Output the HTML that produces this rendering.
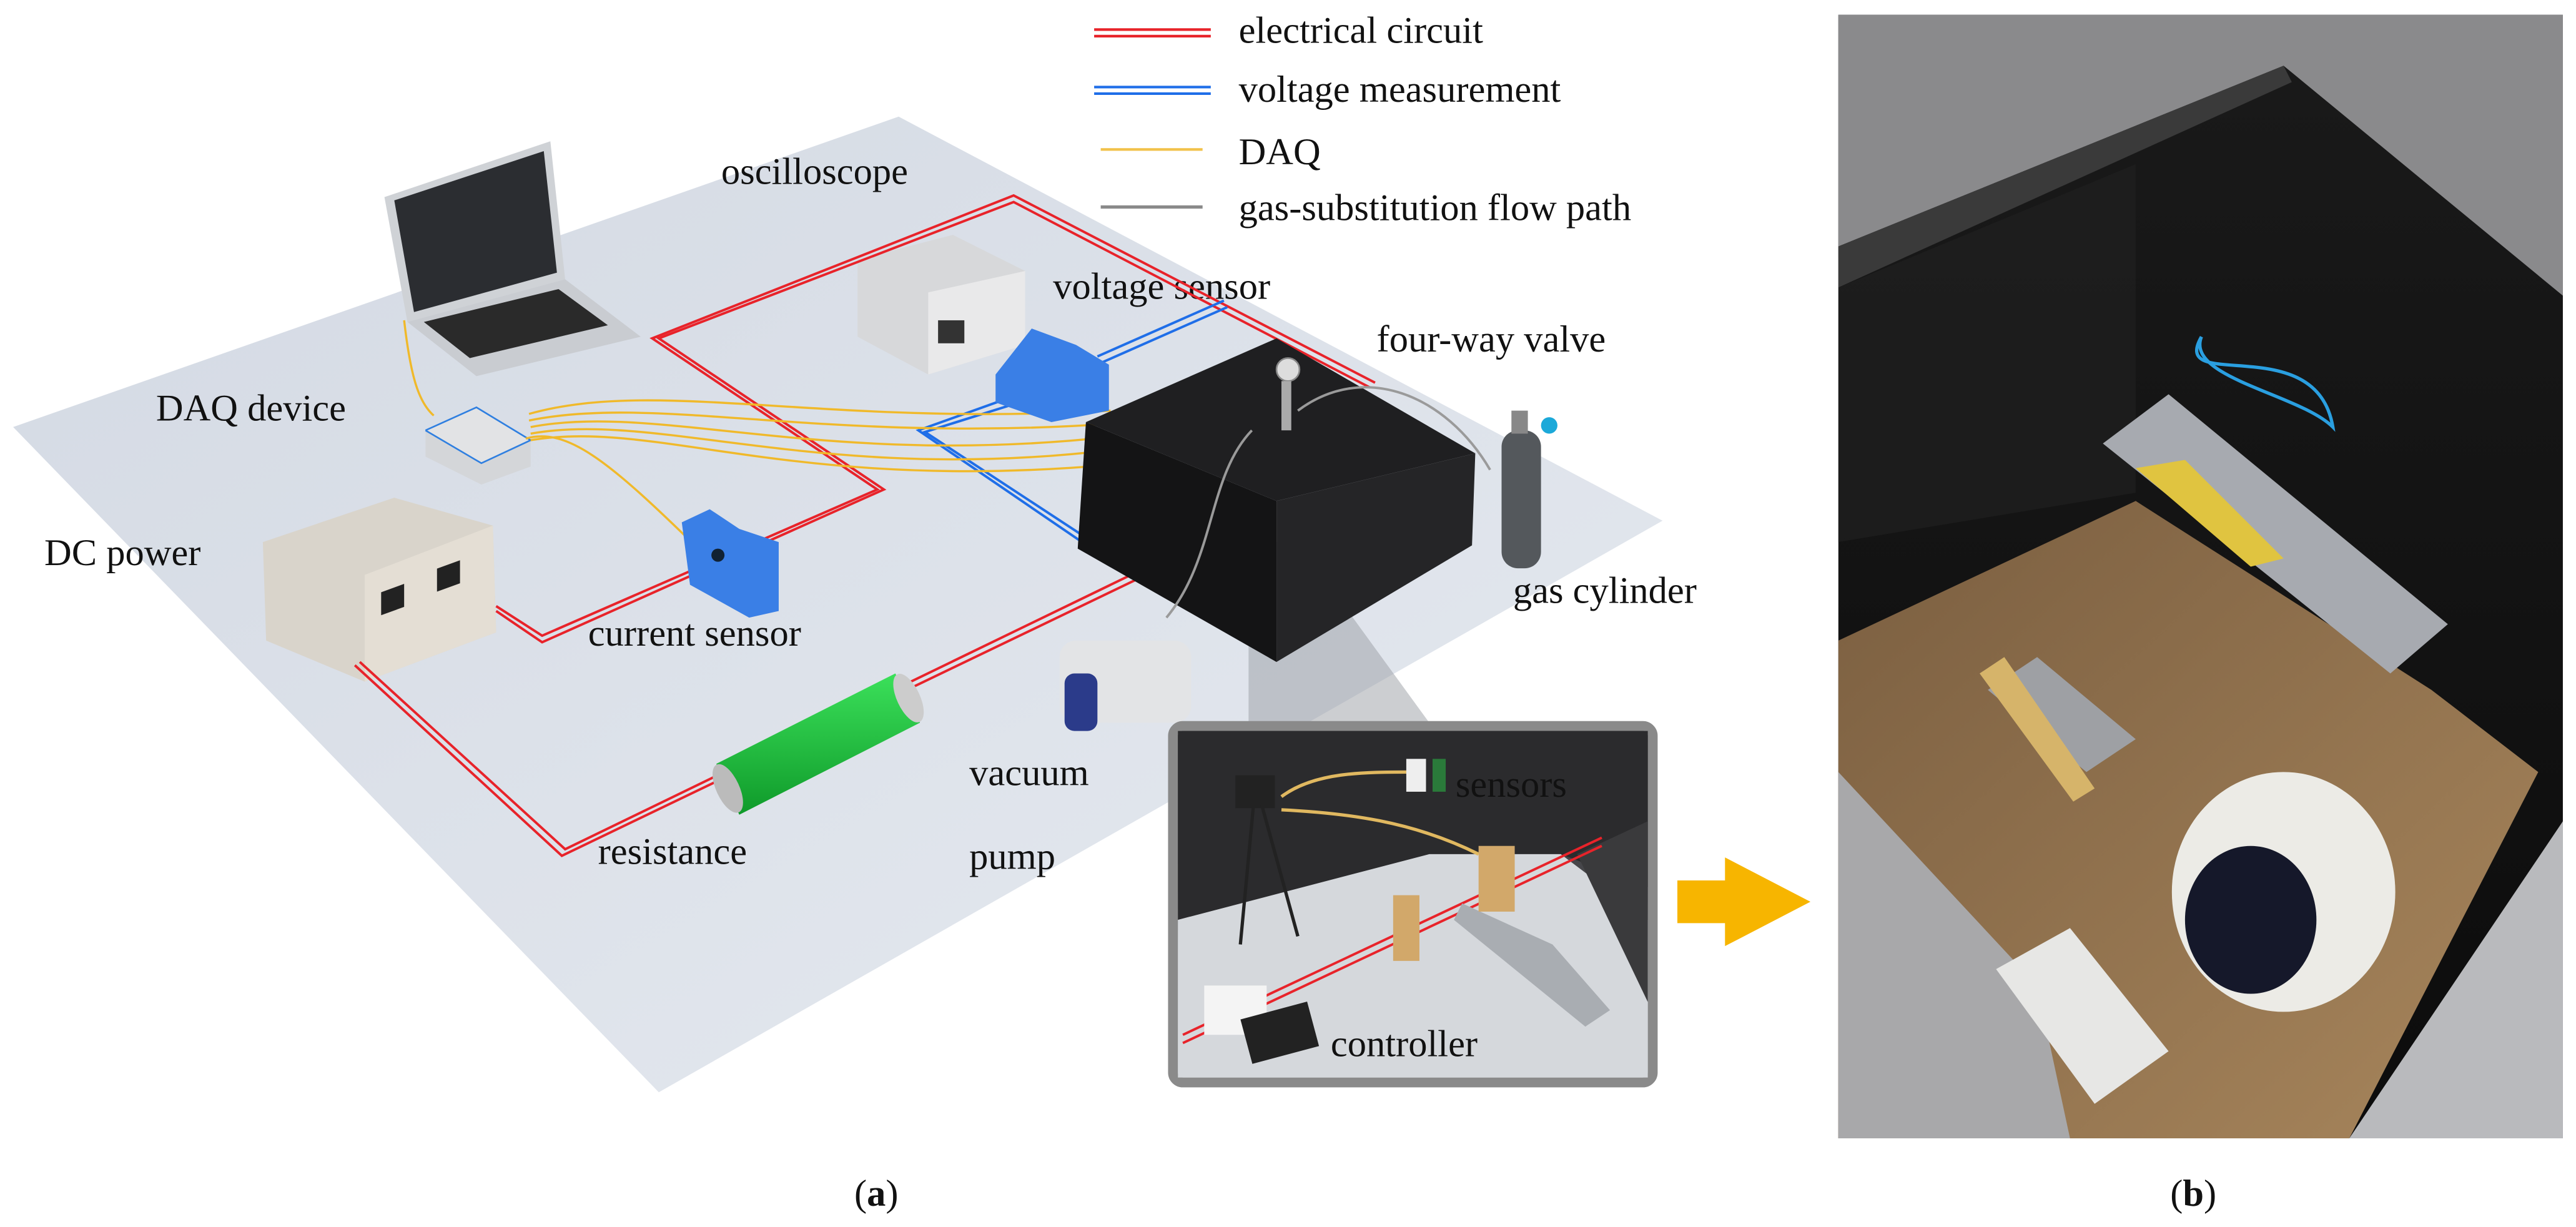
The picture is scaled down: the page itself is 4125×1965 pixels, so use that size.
<!DOCTYPE html>
<html><head><meta charset="utf-8"><style>
html,body{margin:0;padding:0;background:#fff;}
svg{display:block;}
text{font-family:"Liberation Serif",serif;fill:#111;}
</style></head><body>
<svg width="4125" height="1965" viewBox="0 0 1568 747" preserveAspectRatio="none" xmlns="http://www.w3.org/2000/svg">
<defs>
<linearGradient id="fl" x1="0" y1="0" x2="1" y2="1"><stop offset="0" stop-color="#d3d9e3"/><stop offset="1" stop-color="#e6eaf0"/></linearGradient>
<linearGradient id="ins" x1="0" y1="0" x2="0" y2="1"><stop offset="0" stop-color="#2a2a2c"/><stop offset="0.45" stop-color="#4a4a4e"/><stop offset="0.6" stop-color="#bfc3c8"/><stop offset="1" stop-color="#dfe2e6"/></linearGradient>
<linearGradient id="ph" x1="0" y1="0" x2="0" y2="1"><stop offset="0" stop-color="#1a1a1a"/><stop offset="1" stop-color="#0c0c0c"/></linearGradient>
<linearGradient id="grn" x1="0" y1="0" x2="0" y2="1"><stop offset="0" stop-color="#3be05a"/><stop offset="1" stop-color="#0f9a2a"/></linearGradient>
<linearGradient id="wood" x1="0" y1="0" x2="1" y2="1"><stop offset="0" stop-color="#7a5e40"/><stop offset="1" stop-color="#a8865c"/></linearGradient>
</defs>
<polygon points="8,260 547,71 1012,317 401,665" fill="url(#fl)"/>
<polygon points="760,330 790,330 870,440 760,440" fill="#9a9ea4" opacity="0.5"/>
<g stroke-width="1.6" fill="none">
<line x1="666" y1="18" x2="737" y2="18" stroke="#e8232a"/><line x1="666" y1="22" x2="737" y2="22" stroke="#e8232a"/>
<line x1="666" y1="53" x2="737" y2="53" stroke="#1f6ee8"/><line x1="666" y1="57" x2="737" y2="57" stroke="#1f6ee8"/>
<line x1="670" y1="91" x2="732" y2="91" stroke="#f2c24a"/>
<line x1="670" y1="126" x2="732" y2="126" stroke="#8a8a8a" stroke-width="2"/>
</g>
<g font-size="23">
<text x="754" y="26">electrical circuit</text>
<text x="754" y="62">voltage measurement</text>
<text x="754" y="100">DAQ</text>
<text x="754" y="134">gas-substitution flow path</text>
<text x="439" y="112">oscilloscope</text>
<text x="95" y="256">DAQ device</text>
<text x="27" y="344">DC power</text>
<text x="358" y="393">current sensor</text>
<text x="641" y="182">voltage sensor</text>
<text x="838" y="214">four-way valve</text>
<text x="921" y="367">gas cylinder</text>
<text x="590" y="478">vacuum</text>
<text x="590" y="529">pump</text>
<text x="364" y="526">resistance</text>
<text x="520" y="734">(<tspan font-weight="bold">a</tspan>)</text>
<text x="1321" y="734">(<tspan font-weight="bold">b</tspan>)</text>
</g>
<polygon points="234,120 335,86 344,170 248,196" fill="#cfd2d6"/>
<polygon points="240,122 331,92 339,166 252,190" fill="#2b2d31"/>
<polygon points="248,196 344,170 390,205 290,229" fill="#c9ccd1"/>
<polygon points="258,196 340,176 370,198 286,218" fill="#2a2a2a"/>
<polygon points="522,158 580,143 624,165 624,210 565,228 522,205" fill="#d7d8da"/>
<polygon points="565,178 624,165 624,210 565,228" fill="#e9e9ea"/>
<rect x="571" y="195" width="16" height="14" fill="#333"/>
<polygon points="259,262 290,248 323,268 323,284 293,295 259,278" fill="#d4d6d9"/>
<polyline points="259,262 290,248 323,268 293,282 259,262" fill="#e2e3e5" stroke="#2f7fe0" stroke-width="1"/>
<polygon points="160,330 240,303 300,320 302,385 222,415 162,390" fill="#d9d4cb"/>
<polygon points="222,350 300,320 302,385 222,415" fill="#e4ded4"/>
<rect x="232" y="360" width="14" height="14" fill="#222" transform="skewY(-20) translate(0,85)"/>
<rect x="266" y="345" width="14" height="14" fill="#222" transform="skewY(-20) translate(0,98)"/>
<g fill="none" stroke="#e8232a" stroke-width="1.5">
<polyline points="302,369 330,387 534,298 397,206 617,119 837,233"/>
<polyline points="302,372 330,391 538,298 401,206 617,123 834,236"/>
<polyline points="219,403 344,517 707,341"/>
<polyline points="216,405 342,521 708,345"/>
</g>
<g fill="none" stroke="#1f6ee8" stroke-width="1.5">
<polyline points="668,217 745,183"/><polyline points="670,221 747,187"/>
<polyline points="612,243 559,262 685,348"/><polyline points="614,247 563,263 688,345"/>
</g>
<g fill="none" stroke="#f0b92a" stroke-width="1.3">
<path d="M246,195 C250,230 255,245 264,253"/>
<path d="M320,267 C345,260 370,280 425,334"/>
<path d="M322,252 C400,230 500,260 676,250"/>
<path d="M322,256 C400,240 500,270 676,258"/>
<path d="M323,260 C400,245 500,285 676,266"/>
<path d="M323,264 C400,250 500,295 676,274"/>
<path d="M323,268 C400,255 480,300 676,283"/>
</g>
<polygon points="415,318 432,310 450,322 474,330 474,372 456,376 420,356" fill="#3a7fe6"/>
<circle cx="437" cy="338" r="4" fill="#123"/>
<polygon points="606,228 628,200 655,210 675,222 675,250 640,257 606,245" fill="#3a7fe6"/>
<polygon points="777,206 661,257 777,305 898,276" fill="#1f1f21"/>
<polygon points="661,257 777,305 777,403 656,334" fill="#141415"/>
<polygon points="777,305 898,276 896,332 777,403" fill="#252527"/>
<circle cx="784" cy="225" r="7" fill="#ddd" stroke="#888"/>
<rect x="780" y="232" width="6" height="30" fill="#aaa"/>
<g fill="none" stroke="#9a9a9a" stroke-width="1.5">
<path d="M790,250 C830,220 880,240 907,286"/>
<path d="M762,262 C735,290 740,340 710,376"/>
</g>
<rect x="914" y="262" width="24" height="84" rx="10" fill="#54585c"/>
<rect x="920" y="250" width="10" height="14" fill="#888"/>
<circle cx="943" cy="259" r="5" fill="#1ca9d9"/>
<rect x="645" y="390" width="80" height="50" rx="10" fill="#e3e4e6"/>
<rect x="648" y="410" width="20" height="35" rx="6" fill="#2b3b8a"/>
<polygon points="436,465 545,410 560,440 450,496" fill="url(#grn)"/>
<ellipse cx="443" cy="480" rx="7" ry="16" fill="#bbb" transform="rotate(-25 443 480)"/>
<ellipse cx="553" cy="425" rx="7" ry="16" fill="#ccc" transform="rotate(-25 553 425)"/>
<rect x="714" y="442" width="292" height="217" rx="6" fill="url(#ins)" stroke="#8a8a8a" stroke-width="6"/>
<polygon points="717,445 1003,445 1003,540 950,520 870,520 717,560" fill="#2b2b2d"/>
<polygon points="717,560 870,520 950,520 1003,560 1003,656 717,656" fill="#d5d8dc"/>
<polygon points="960,520 1003,500 1003,610" fill="#3a3a3c"/>
<g fill="none" stroke="#e8232a" stroke-width="1.5"><line x1="720" y1="630" x2="975" y2="510"/><line x1="720" y1="635" x2="975" y2="515"/></g>
<polygon points="890,550 945,575 980,615 965,625 885,560" fill="#a9adb2"/>
<rect x="900" y="515" width="22" height="40" fill="#d2a86a"/>
<rect x="848" y="545" width="16" height="40" fill="#d2a86a"/>
<rect x="733" y="600" width="38" height="30" fill="#f4f4f4"/>
<rect x="758" y="615" width="42" height="28" fill="#222" transform="rotate(-15 778 629)"/>
<rect x="752" y="472" width="24" height="20" fill="#222"/>
<line x1="763" y1="490" x2="755" y2="575" stroke="#222" stroke-width="2"/>
<line x1="768" y1="490" x2="790" y2="570" stroke="#222" stroke-width="2"/>
<path d="M780,485 C800,470 830,470 860,470" stroke="#e0b860" stroke-width="2" fill="none"/>
<path d="M780,493 C820,495 860,500 900,520" stroke="#e0b860" stroke-width="2" fill="none"/>
<rect x="856" y="462" width="12" height="20" fill="#eee"/>
<rect x="872" y="462" width="8" height="20" fill="#2a7a3a"/>
<g font-size="23"><text x="886" y="485">sensors</text><text x="810" y="643">controller</text></g>
<polygon points="1021,536 1050,536 1050,522 1102,549 1050,576 1050,562 1021,562" fill="#f7b500"/>
<!-- photo b -->
<rect x="1119" y="9" width="441" height="684" fill="url(#ph)"/>
<polygon points="1119,9 1560,9 1560,180 1390,40 1119,150" fill="#8a8a8c"/>
<polygon points="1119,150 1390,40 1395,50 1119,175" fill="#3a3a3a"/>
<polygon points="1119,175 1300,100 1300,300 1119,330" fill="#222" opacity="0.6"/>
<polygon points="1119,390 1300,305 1480,420 1545,470 1430,693 1119,693" fill="url(#wood)"/>
<polygon points="1560,500 1430,693 1560,693" fill="#b9babd"/>
<polygon points="1119,470 1240,600 1260,693 1119,693" fill="#a8a8aa"/>
<polygon points="1280,270 1320,240 1490,380 1455,410" fill="#a7aab0"/>
<polygon points="1300,285 1330,280 1390,340 1370,345" fill="#e0c440"/>
<polygon points="1210,420 1240,400 1300,450 1270,470" fill="#9ea0a4"/>
<polygon points="1205,410 1220,400 1275,480 1262,488" fill="#d6b46a"/>
<path d="M1340,205 C1320,240 1410,200 1420,260 C1400,240 1330,230 1340,205" stroke="#2a9fe0" stroke-width="2" fill="none"/>
<ellipse cx="1390" cy="543" rx="68" ry="73" fill="#ecebe6"/>
<ellipse cx="1370" cy="560" rx="40" ry="45" fill="#15182a"/>
<polygon points="1215,590 1260,565 1320,640 1275,672" fill="#e7e7e5"/>
</svg>
</body></html>
